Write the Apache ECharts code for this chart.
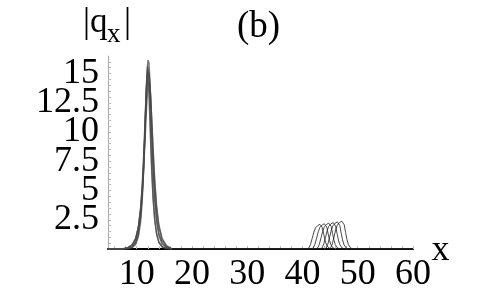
<!DOCTYPE html>
<html>
<head>
<meta charset="utf-8">
<script src="https://cdn.jsdelivr.net/npm/echarts@6/dist/echarts.min.js"></script>
<style>
html,body{margin:0;padding:0;background:#fff;}
#c{width:483px;height:300px;}
</style>
</head>
<body>
<div id="c"></div>
<script>
// ---- data ----
const xTickLabels = [10, 20, 30, 40, 50, 60];
const yTickLabels = [2.5, 5, 7.5, 10, 12.5, 15];
const xTicks = [6, 8, 10, 12, 14, 16, 18, 20, 22, 24, 26, 28, 30, 32, 34, 36, 38, 40, 42, 44, 46, 48, 50, 52, 54, 56, 58, 60];
const yTicks = [0.5, 1, 1.5, 2, 2.5, 3, 3.5, 4, 4.5, 5, 5.5, 6, 6.5, 7, 7.5, 8, 8.5, 9, 9.5, 10, 10.5, 11, 11.5, 12, 12.5, 13, 13.5, 14, 14.5, 15, 15.5, 16];

// tall peak near x = 12 (six overlapping curves, shared x samples)
const bigX = [4.8, 7.4, 8.4, 9.2, 9.8, 10.3, 10.7, 11.0, 11.25, 11.45, 11.65, 11.8, 11.95, 12.0, 12.05, 12.1, 12.15, 12.2, 12.35, 12.5, 12.7, 12.95, 13.25, 13.6, 14.0, 14.6, 15.4, 16.4];
const bigY1 = [0, 0, 0.05, 0.20, 0.58, 1.39, 2.77, 4.63, 6.96, 9.42, 12.21, 14.20, 15.66, 15.96, 16.14, 16.2, 16.14, 15.96, 14.76, 12.91, 10.10, 6.96, 4.25, 2.34, 1.16, 0.41, 0.10, 0];
const bigY2 = [0, 0, 0.02, 0.12, 0.39, 1.05, 2.32, 4.17, 6.67, 9.41, 12.51, 14.52, 15.62, 15.7, 15.62, 15.39, 15.02, 14.52, 12.51, 10.18, 7.30, 4.59, 2.56, 1.28, 0.57, 0.17, 0.03, 0];
const bigY3 = [0, 0, 0.11, 0.36, 0.89, 1.89, 3.41, 5.25, 7.39, 9.48, 11.74, 13.32, 14.54, 14.82, 15.03, 15.16, 15.2, 15.16, 14.54, 13.32, 11.18, 8.39, 5.63, 3.41, 1.89, 0.77, 0.23, 0];
const bigY4 = [0, 0, 0.03, 0.16, 0.50, 1.28, 2.73, 4.74, 7.32, 9.96, 12.68, 14.22, 14.8, 14.73, 14.54, 14.22, 13.79, 13.27, 11.36, 9.26, 6.73, 4.33, 2.49, 1.28, 0.60, 0.19, 0.04, 0];
const bigY5 = [0, 0, 0.12, 0.37, 0.89, 1.83, 3.23, 4.90, 6.83, 8.72, 10.78, 12.28, 13.50, 13.81, 14.07, 14.25, 14.36, 14.4, 14.07, 13.14, 11.30, 8.72, 6.00, 3.72, 2.11, 0.89, 0.28, 0];
const bigY6 = [0, 0, 0.09, 0.32, 0.85, 1.88, 3.53, 5.58, 8.00, 10.35, 12.79, 14.34, 15.30, 15.45, 15.5, 15.45, 15.30, 15.06, 13.87, 12.20, 9.74, 6.95, 4.45, 2.58, 1.37, 0.52, 0.15, 0];

// small peaks near x = 43..48
const smallX1 = [16.4, 40.75, 41.15, 41.45, 41.75, 42.05, 42.35, 42.75, 43.15, 43.35, 43.6, 43.85, 44.1, 44.35, 44.75, 45.15, 60];
const smallY1 = [0, 0, 0.09, 0.39, 0.90, 1.44, 1.81, 2.00, 2.11, 2.15, 1.83, 1.25, 0.71, 0.34, 0.09, 0, 0];
const smallX2 = [16.4, 41.55, 41.95, 42.25, 42.55, 42.85, 43.15, 43.55, 43.95, 44.15, 44.4, 44.65, 44.9, 45.15, 45.55, 45.95, 60];
const smallY2 = [0, 0, 0.09, 0.40, 0.92, 1.47, 1.85, 2.05, 2.16, 2.2, 1.87, 1.28, 0.73, 0.35, 0.09, 0, 0];
const smallX3 = [16.4, 42.35, 42.75, 43.05, 43.35, 43.65, 43.95, 44.35, 44.75, 44.95, 45.2, 45.45, 45.7, 45.95, 46.35, 46.75, 60];
const smallY3 = [0, 0, 0.09, 0.41, 0.95, 1.51, 1.90, 2.10, 2.21, 2.26, 1.92, 1.31, 0.75, 0.36, 0.09, 0, 0];
const smallX4 = [16.4, 43.15, 43.55, 43.85, 44.15, 44.45, 44.75, 45.15, 45.55, 45.75, 46.0, 46.25, 46.5, 46.75, 47.15, 47.55, 60];
const smallY4 = [0, 0, 0.09, 0.42, 0.97, 1.55, 1.94, 2.15, 2.26, 2.31, 1.96, 1.34, 0.76, 0.37, 0.09, 0, 0];
const smallX5 = [16.4, 43.9, 44.3, 44.6, 44.9, 45.2, 45.5, 45.9, 46.3, 46.5, 46.75, 47.0, 47.25, 47.5, 47.9, 48.3, 60];
const smallY5 = [0, 0, 0.09, 0.43, 1.00, 1.59, 1.99, 2.20, 2.32, 2.37, 2.01, 1.37, 0.78, 0.38, 0.09, 0, 0];
const smallX6 = [16.4, 44.7, 45.1, 45.4, 45.7, 46.0, 46.3, 46.7, 47.1, 47.3, 47.55, 47.8, 48.05, 48.3, 48.7, 49.1, 60];
const smallY6 = [0, 0, 0.10, 0.44, 1.02, 1.63, 2.04, 2.26, 2.38, 2.43, 2.07, 1.41, 0.80, 0.39, 0.10, 0, 0];

// ---- build ----
const bigYs = [bigY1, bigY2, bigY3, bigY4, bigY5, bigY6];
const smallXs = [smallX1, smallX2, smallX3, smallX4, smallX5, smallX6];
const smallYs = [smallY1, smallY2, smallY3, smallY4, smallY5, smallY6];

const serif = "'Liberation Serif', 'Times New Roman', serif";

const series = [];
bigYs.forEach((by, i) => {
  series.push({
    type: 'line',
    data: bigX.map((x, j) => [x, by[j]]),
    yAxisIndex: 0,
    showSymbol: false, symbol: 'none', silent: true, smooth: false,
    lineStyle: { color: '#4a4a4a', width: 1.4, opacity: 0.75 },
    z: 3
  });
  series.push({
    type: 'line',
    data: smallXs[i].map((x, j) => [x, smallYs[i][j]]),
    yAxisIndex: 0,
    showSymbol: false, symbol: 'none', silent: true, smooth: false,
    lineStyle: { color: '#222', width: 0.9, opacity: 0.9 },
    z: 3
  });
});

// labels split over two coincident axes so large overlapping labels all show
const yLabelsA = yTickLabels.filter((v, i) => i % 2 === 0);
const yLabelsB = yTickLabels.filter((v, i) => i % 2 === 1);

function yLabelStyle(vals) {
  return {
    show: true, customValues: vals, margin: 9,
    showMinLabel: true, showMaxLabel: true, hideOverlap: false,
    color: '#000', fontFamily: serif, fontSize: 36,
    padding: [0, 0, 6, 0],
    formatter: v => String(v)
  };
}

const chart = echarts.init(document.getElementById('c'), null, { renderer: 'canvas' });
chart.setOption({
  animation: false,
  backgroundColor: '#fff',
  grid: { left: 108, right: 70, top: 56, bottom: 51, containLabel: false },
  xAxis: {
    type: 'value',
    min: 4.8,
    max: 60,
    axisLine: { show: true, onZero: false, lineStyle: { color: '#000', width: 2 } },
    axisTick: { show: true, inside: true, length: 3, customValues: xTicks, lineStyle: { color: '#bbb', width: 1 } },
    axisLabel: {
      show: true, customValues: xTickLabels, margin: 8,
      showMinLabel: true, showMaxLabel: true, hideOverlap: false,
      color: '#000', fontFamily: serif, fontSize: 36,
      formatter: v => String(v)
    },
    splitLine: { show: false }
  },
  yAxis: [
    {
      type: 'value',
      position: 'left',
      min: 0,
      max: 16.5,
      axisLine: { show: true, onZero: false, lineStyle: { color: '#aaa', width: 1 } },
      axisTick: { show: true, inside: true, length: 3, customValues: yTicks, lineStyle: { color: '#bbb', width: 1 } },
      axisLabel: yLabelStyle(yLabelsA),
      splitLine: { show: false }
    },
    {
      type: 'value',
      position: 'left',
      offset: 0,
      min: 0,
      max: 16.5,
      axisLine: { show: false },
      axisTick: { show: false },
      axisLabel: yLabelStyle(yLabelsB),
      splitLine: { show: false }
    }
  ],
  graphic: [
    { type: 'text', left: 237, top: 9, style: { text: '(b)', font: '37px ' + serif, fill: '#000' } },
    { type: 'text', x: 83, y: 23, style: { text: '|q', font: '35px ' + serif, fill: '#000', verticalAlign: 'middle', align: 'left' } },
    { type: 'text', x: 107, y: 34.5, style: { text: 'x', font: '27px ' + serif, fill: '#000', verticalAlign: 'middle', align: 'left' } },
    { type: 'text', x: 124, y: 23, style: { text: '|', font: '35px ' + serif, fill: '#000', verticalAlign: 'middle', align: 'left' } },
    { type: 'text', x: 440.5, y: 251, style: { text: 'x', font: '36px ' + serif, fill: '#000', verticalAlign: 'middle', align: 'center' } }
  ],
  series: series
});
</script>
</body>
</html>
